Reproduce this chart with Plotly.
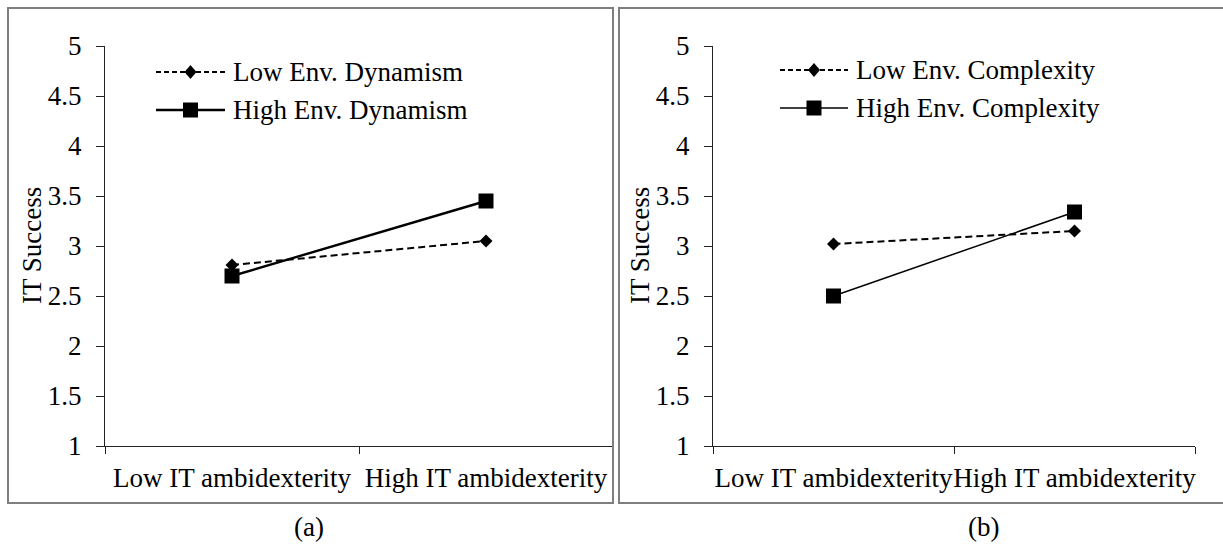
import plotly.graph_objects as go

W, H = 1223, 545

categories = ["Low IT ambidexterity", "High IT ambidexterity"]
y_ticks = [1, 1.5, 2, 2.5, 3, 3.5, 4, 4.5, 5]

# Panel (a): environmental dynamism
low_dynamism = [2.81, 3.05]
high_dynamism = [2.70, 3.45]
# Panel (b): environmental complexity
low_complexity = [3.02, 3.15]
high_complexity = [2.50, 3.34]

legend_a = ["Low Env. Dynamism", "High Env. Dynamism"]
legend_b = ["Low Env. Complexity", "High Env. Complexity"]
panel_labels = ["(a)", "(b)"]
y_title = "IT Success"

FONT = "Liberation Serif, Times New Roman, serif"
FS = 27
BLACK = "#000000"
DASH = "7px,4px"


def px(x):
    return x / W


def py(y):
    return 1 - y / H


fig = go.Figure()

# Panel a traces
fig.add_trace(go.Scatter(x=categories, y=low_dynamism, mode="lines+markers",
                         line=dict(color=BLACK, width=2, dash=DASH),
                         marker=dict(symbol="diamond", size=10, color=BLACK),
                         xaxis="x", yaxis="y", showlegend=False))
fig.add_trace(go.Scatter(x=categories, y=high_dynamism, mode="lines+markers",
                         line=dict(color=BLACK, width=2.4),
                         marker=dict(symbol="square", size=15, color=BLACK),
                         xaxis="x", yaxis="y", showlegend=False))
# Panel b traces
fig.add_trace(go.Scatter(x=categories, y=low_complexity, mode="lines+markers",
                         line=dict(color=BLACK, width=2, dash=DASH),
                         marker=dict(symbol="diamond", size=10, color=BLACK),
                         xaxis="x2", yaxis="y2", showlegend=False))
fig.add_trace(go.Scatter(x=categories, y=high_complexity, mode="lines+markers",
                         line=dict(color=BLACK, width=1.5),
                         marker=dict(symbol="square", size=15, color=BLACK),
                         xaxis="x2", yaxis="y2", showlegend=False))

ydom = [py(446), py(46)]

xaxis_common = dict(type="category", range=[-0.5, 1.5], tickson="boundaries",
                    ticks="outside", ticklen=7, tickcolor="#222", showline=True,
                    linecolor="#222", linewidth=1, showgrid=False, zeroline=False,
                    tickangle=0, automargin=False, ticklabelstandoff=8,
                    tickfont=dict(family=FONT, size=FS, color=BLACK),
                    fixedrange=True)
yaxis_common = dict(range=[1, 5], tickvals=y_ticks, ticks="outside", ticklen=8,
                    tickcolor="#222", showline=True, linecolor="#222", linewidth=1,
                    showgrid=False, zeroline=False, automargin=False,
                    ticklabelstandoff=9,
                    tickfont=dict(family=FONT, size=FS, color=BLACK),
                    fixedrange=True)

fig.update_layout(
    template="none",
    width=W, height=H,
    margin=dict(l=0, r=0, t=0, b=0, pad=0),
    paper_bgcolor="white", plot_bgcolor="white",
    xaxis=dict(domain=[px(105), px(613)], anchor="y", **xaxis_common),
    yaxis=dict(domain=ydom, anchor="x", **yaxis_common),
    xaxis2=dict(domain=[px(713), px(1195)], anchor="y2", **xaxis_common),
    yaxis2=dict(domain=ydom, anchor="x2", **yaxis_common),
    showlegend=False,
    hovermode=False,
)

shapes = []
annotations = []

# Panel frames
shapes.append(dict(type="rect", xref="paper", yref="paper",
                   x0=px(8), x1=px(613), y0=py(503), y1=py(8),
                   line=dict(color="#7f7f7f", width=2)))
shapes.append(dict(type="rect", xref="paper", yref="paper",
                   x0=px(619), x1=px(1240), y0=py(503), y1=py(8),
                   line=dict(color="#7f7f7f", width=2)))

DIAMOND = "M0,7 L6,0 L0,-7 L-6,0 Z"
SQUARE = "M-7.5,-7.5 L7.5,-7.5 L7.5,7.5 L-7.5,7.5 Z"


def legend_row(x0, x1, y, dashed, path, text, lw):
    shapes.append(dict(type="line", xref="paper", yref="paper",
                       x0=px(x0), x1=px(x1), y0=py(y), y1=py(y),
                       line=dict(color=BLACK, width=lw, dash=("5px,3px" if dashed else "solid"))))
    shapes.append(dict(type="path", xref="paper", yref="paper",
                       xsizemode="pixel", ysizemode="pixel",
                       xanchor=px((x0 + x1) / 2), yanchor=py(y),
                       path=path, fillcolor=BLACK, line=dict(color=BLACK, width=0)))
    annotations.append(dict(xref="paper", yref="paper", x=px(x1 + 6), y=py(y),
                            xanchor="left", yanchor="middle", showarrow=False,
                            text=text, font=dict(family=FONT, size=FS, color=BLACK)))


legend_row(156, 225, 72, True, DIAMOND, legend_a[0], 2)
legend_row(156, 225, 110, False, SQUARE, legend_a[1], 2.4)
legend_row(780, 848, 70, True, DIAMOND, legend_b[0], 2)
legend_row(780, 848, 108, False, SQUARE, legend_b[1], 1.6)

# Y axis titles
for xt in (32, 640):
    annotations.append(dict(xref="paper", yref="paper", x=px(xt), y=py(246),
                            xanchor="center", yanchor="middle", showarrow=False,
                            textangle=-90, text=y_title,
                            font=dict(family=FONT, size=FS, color=BLACK)))

# Panel labels
for xt, lab in zip((309, 983), panel_labels):
    annotations.append(dict(xref="paper", yref="paper", x=px(xt), y=py(527),
                            xanchor="center", yanchor="middle", showarrow=False,
                            text=lab, font=dict(family=FONT, size=FS, color=BLACK)))

fig.update_layout(shapes=shapes, annotations=annotations)

fig.write_html("out.html", config={"displayModeBar": False, "staticPlot": True},
               post_script="document.body.style.margin='0';document.body.style.overflow='hidden';")
